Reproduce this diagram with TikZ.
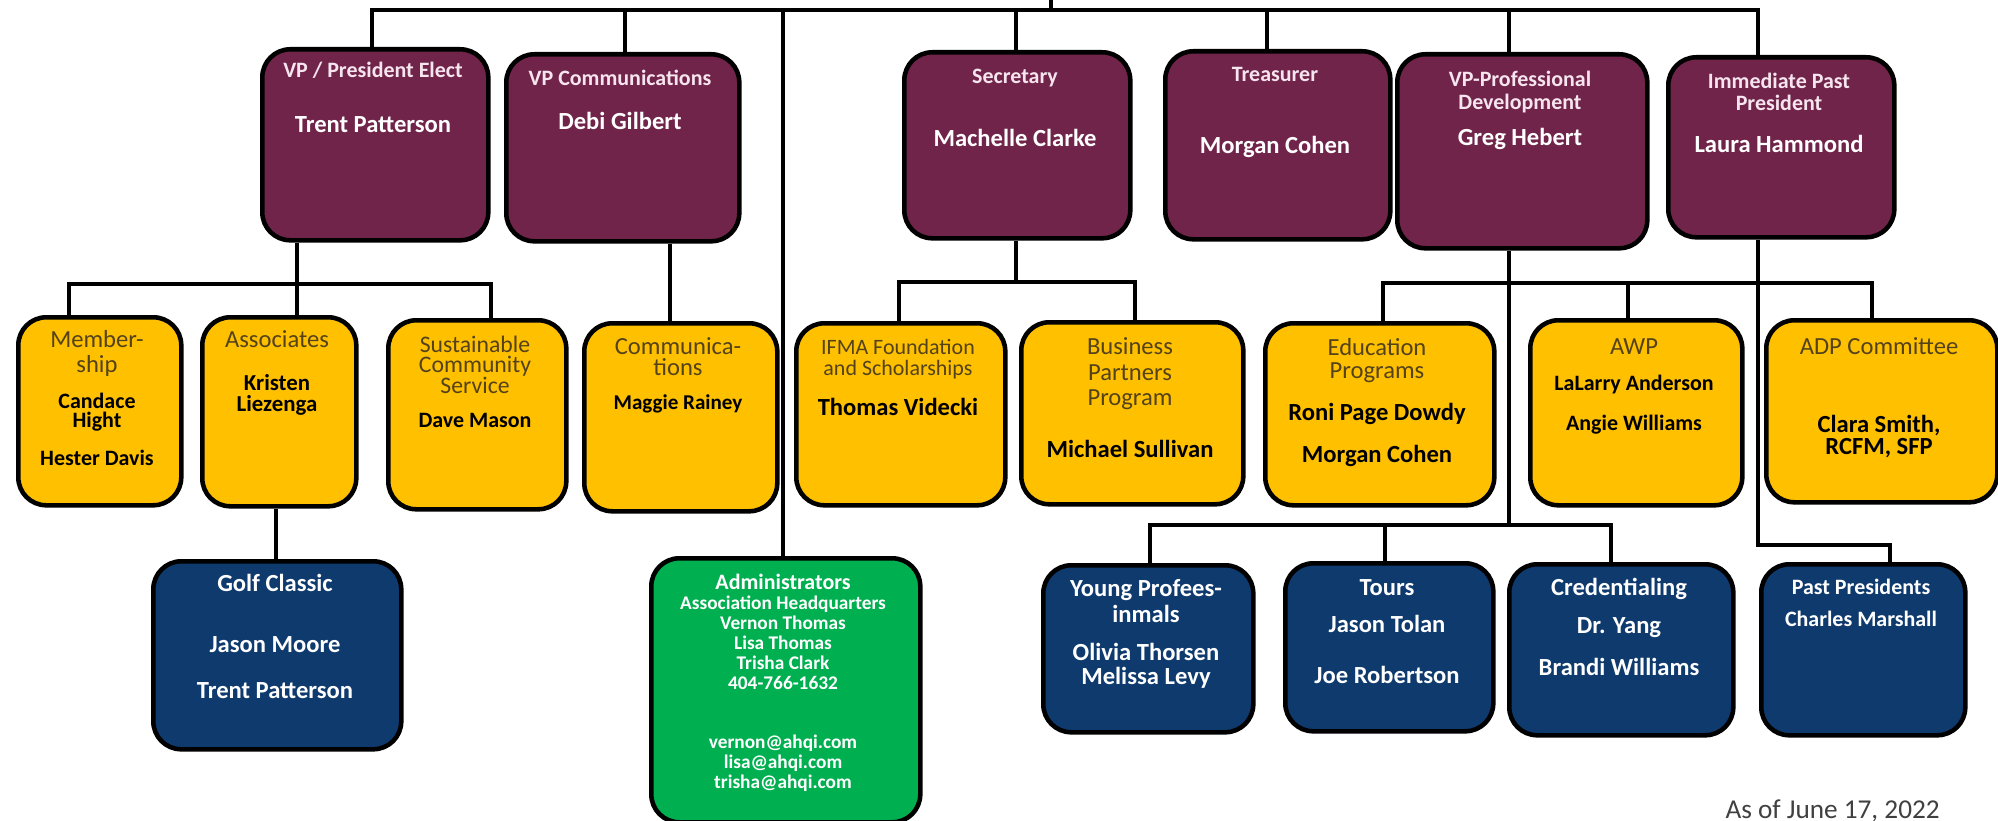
\documentclass[tikz,border=0pt]{standalone}
\usepackage{fontspec}
\setmainfont{Carlito}
\usetikzlibrary{positioning,calc}
\newlength{\pxl}
\setlength{\pxl}{0.02cm}
\definecolor{orgpurple}{RGB}{112,36,74}
\definecolor{orgyellow}{RGB}{255,192,0}
\definecolor{orgnavy}{RGB}{14,58,110}
\definecolor{orggreen}{RGB}{0,176,80}
\definecolor{ttlbrown}{RGB}{84,66,26}
\definecolor{ttlpink}{RGB}{246,228,238}
\definecolor{dategray}{RGB}{64,64,64}
\newcommand{\fsz}[1]{\fontsize{#1}{0}\selectfont}
\newcommand{\nolsk}{\lineskiplimit=-\maxdimen\relax}
\newcommand{\tp}{\rule{0pt}{12pt}}
\newcommand{\pttl}[2][12.5]{{\fsz{#1}\bfseries\color{ttlpink}#2}}
\newcommand{\pnm}[2][14]{{\fsz{#1}\bfseries #2}}
\newcommand{\yttl}[2][14]{{\fsz{#1}\color{ttlbrown}#2}}
\newcommand{\ynm}[2][13]{{\fsz{#1}\bfseries #2}}
\newcommand{\bnm}[2][14]{{\fsz{#1}\bfseries #2}}
\tikzset{
    boxsty/.style={draw=black,line width=2.6pt,rounded corners=0.56cm,anchor=north west,inner sep=0pt},
    purpsty/.style={boxsty,fill=orgpurple},
    yelsty/.style={boxsty,fill=orgyellow},
    navsty/.style={boxsty,fill=orgnavy},
    grnsty/.style={boxsty,fill=orggreen},
    sz/.style 2 args={minimum width=#1\pxl,minimum height=#2\pxl},
    txtsty/.style={inner sep=0pt,align=center,anchor=north,font=\fsz{12}\nolsk},
    wtxtsty/.style={txtsty,text=white},
    btxtsty/.style={txtsty,text=black},
    linesty/.style={draw=black,line width=2.2pt,line join=miter},
}

\begin{document}
\begin{tikzpicture}[x=0.02cm,y=-0.02cm]
  \path[use as bounding box,fill=white] (0,0) rectangle (1998,821);

  \node[purpsty,sz={226}{191}] (vppe)  at (260,47) {};
  \node[purpsty,sz={233}{187}] (vpcom) at (504,52) {};
  \node[purpsty,sz={226}{186}] (secr)  at (902,50) {};
  \node[purpsty,sz={225}{188}] (treas) at (1163,49) {};
  \node[purpsty,sz={250}{194}] (vppd)  at (1395,52) {};
  \node[purpsty,sz={226}{180}] (ipp)   at (1666,55) {};

  \node[yelsty,sz={163}{188}] (memb)  at (16,315) {};
  \node[yelsty,sz={154}{189}] (assoc) at (200,315) {};
  \node[yelsty,sz={178}{189}] (sust)  at (386,318) {};
  \node[yelsty,sz={193}{188}] (comm)  at (582,321) {};
  \node[yelsty,sz={209}{182}] (ifma)  at (794,321) {};
  \node[yelsty,sz={222}{182}] (bpp)   at (1019,320) {};
  \node[yelsty,sz={229}{182}] (edu)   at (1263,321) {};
  \node[yelsty,sz={212}{185}] (awp)   at (1528,318) {};
  \node[yelsty,sz={231}{182}] (adp)   at (1764,318) {};

  \node[navsty,sz={248}{188}] (golf)  at (151,559) {};
  \node[grnsty,sz={269}{264}] (admin) at (649,556) {};
  \node[navsty,sz={210}{167}] (yp)    at (1041,563) {};
  \node[navsty,sz={208}{168}] (tours) at (1283,561) {};
  \node[navsty,sz={224}{171}] (cred)  at (1507,562) {};
  \node[navsty,sz={204}{171}] (pastp) at (1759,562) {};

  \node[wtxtsty] (vppe-txt)  at (373,56)  {\tp\pttl{VP / President Elect}\\[55\pxl]\pnm{Trent Patterson}};
  \node[wtxtsty] (vpcom-txt) at (620,64)  {\tp\pttl{VP Communications}\\[44\pxl]\pnm{Debi Gilbert}};
  \node[wtxtsty] (secr-txt)  at (1015,62) {\tp\pttl{Secretary}\\[63\pxl]\pnm{Machelle Clarke}};
  \node[wtxtsty] (treas-txt) at (1275,60) {\tp\pttl{Treasurer}\\[72\pxl]\pnm{Morgan Cohen}};
  \node[wtxtsty] (vppd-txt)  at (1520,65) {\tp\pttl{VP-Professional}\\[23\pxl]\pttl{Development}\\[36\pxl]\pnm{Greg Hebert}};
  \node[wtxtsty] (ipp-txt)   at (1779,67) {\tp\pttl{Immediate Past}\\[22\pxl]\pttl{President}\\[42\pxl]\pnm{Laura Hammond}};

  \node[btxtsty] (memb-txt)  at (97,326)   {\tp\yttl{Member-}\\[25\pxl]\yttl{ship}\\[36\pxl]\ynm[12.5]{Candace}\\[19\pxl]\ynm[12.5]{Hight}\\[38\pxl]\ynm[12.5]{Hester Davis}};
  \node[btxtsty] (assoc-txt) at (277,326)  {\tp\yttl{Associates}\\[43\pxl]\ynm{Kristen}\\[21\pxl]\ynm{Liezenga}};
  \node[btxtsty] (sust-txt)  at (475,331)  {\tp\yttl[13.5]{Sustainable}\\[20\pxl]\yttl[13.5]{Community}\\[21\pxl]\yttl[13.5]{Service}\\[34\pxl]\ynm[12.5]{Dave Mason}};
  \node[btxtsty] (comm-txt)  at (678,333)  {\tp\yttl{Communica-}\\[21\pxl]\yttl{tions}\\[34\pxl]\ynm[12]{Maggie Rainey}};
  \node[btxtsty] (ifma-txt)  at (898,333)  {\tp\yttl[12.5]{IFMA Foundation}\\[21\pxl]\yttl[12.5]{and Scholarships}\\[40\pxl]\ynm[14]{Thomas Videcki}};
  \node[btxtsty] (bpp-txt)   at (1130,333) {\tp\yttl{Business}\\[26\pxl]\yttl{Partners}\\[25\pxl]\yttl{Program}\\[52\pxl]\ynm[14]{Michael Sullivan}};
  \node[btxtsty] (edu-txt)   at (1377,334) {\tp\yttl{Education}\\[23\pxl]\yttl{Programs}\\[42\pxl]\ynm[14]{Roni Page Dowdy}\\[42\pxl]\ynm[14]{Morgan Cohen}};
  \node[btxtsty] (awp-txt)   at (1634,333) {\tp\yttl{AWP}\\[36\pxl]\ynm[12.5]{LaLarry Anderson}\\[40\pxl]\ynm[12.5]{Angie Williams}};
  \node[btxtsty] (adp-txt)   at (1879,333) {\tp\yttl{ADP Committee}\\[78\pxl]\ynm[14]{Clara Smith,}\\[22\pxl]\ynm[14]{RCFM, SFP}};

  \node[wtxtsty] (golf-txt)  at (275,570)  {\tp\bnm{Golf Classic}\\[61\pxl]\bnm{Jason Moore}\\[46\pxl]\bnm{Trent Patterson}};
  \node[wtxtsty] (yp-txt)    at (1146,575) {\tp\bnm{Young Profees-}\\[26\pxl]\bnm{inmals}\\[38\pxl]\bnm{Olivia Thorsen}\\[24\pxl]\bnm{Melissa Levy}};
  \node[wtxtsty] (tours-txt) at (1387,574) {\tp\bnm{Tours}\\[37\pxl]\bnm{Jason Tolan}\\[51\pxl]\bnm{Joe Robertson}};
  \node[wtxtsty] (cred-txt)  at (1619,574) {\tp\bnm{Credentialing}\\[38\pxl]\bnm{Dr. Yang}\\[42\pxl]\bnm{Brandi Williams}};
  \node[wtxtsty] (pastp-txt) at (1861,573) {\tp\bnm[12.5]{Past Presidents}\\[32\pxl]\bnm[12.5]{Charles Marshall}};
  \node[wtxtsty] (admin-txt) at (783,568)  {\tp\bnm[12.5]{Administrators}\\[20\pxl]\bnm[11]{Association Headquarters}\\[20\pxl]\bnm[11]{Vernon Thomas}\\[20\pxl]\bnm[11]{Lisa Thomas}\\[20\pxl]\bnm[11]{Trisha Clark}\\[20\pxl]\bnm[11]{404-766-1632}\\[59\pxl]\bnm[11]{vernon@ahqi.com}\\[20\pxl]\bnm[11]{lisa@ahqi.com}\\[20\pxl]\bnm[11]{trisha@ahqi.com}};

  \node[inner sep=0pt,anchor=base east,font=\fsz{15.5},text=dategray] (asof) at (1940,818) {As of June 17, 2022};

  \coordinate (trunk) at (1051,0);
  \coordinate (busL) at (372,10);
  \coordinate (busR) at (1758,10);
  \coordinate (b2) at (625,10);
  \coordinate (b3) at (783,10);
  \coordinate (b4) at (1016,10);
  \coordinate (b5) at (1267,10);
  \coordinate (b6) at (1509,10);
  \draw[linesty] (trunk) -- (trunk |- busL);
  \draw[linesty] (busL |- vppe.north) -- (busL) -- (busR) -- (busR |- ipp.north);
  \draw[linesty] (b2) -- (b2 |- vpcom.north);
  \draw[linesty] (b3) -- (b3 |- admin.north);
  \draw[linesty] (b4) -- (b4 |- secr.north);
  \draw[linesty] (b5) -- (b5 |- treas.north);
  \draw[linesty] (b6) -- (b6 |- vppd.north);

  \coordinate (pe1) at (69,284);
  \coordinate (pe2) at (297,284);
  \coordinate (pe3) at (491,284);
  \draw[linesty] (pe2 |- vppe.south) -- (pe2 |- assoc.north);
  \draw[linesty] (pe1 |- memb.north) -- (pe1) -- (pe3) -- (pe3 |- sust.north);
  \coordinate (cm1) at (670,280);
  \draw[linesty] (cm1 |- vpcom.south) -- (cm1 |- comm.north);
  \coordinate (as1) at (276,530);
  \draw[linesty] (as1 |- assoc.south) -- (as1 |- golf.north);

  \coordinate (se1) at (899,282);
  \coordinate (se2) at (1016,282);
  \coordinate (se3) at (1135,282);
  \draw[linesty] (se2 |- secr.south) -- (se2);
  \draw[linesty] (se1 |- ifma.north) -- (se1) -- (se3) -- (se3 |- bpp.north);

  \coordinate (pd1) at (1383,283);
  \coordinate (pd2) at (1509,283);
  \coordinate (pd3) at (1628,283);
  \coordinate (pd4) at (1872,283);
  \coordinate (pd5) at (1150,525);
  \coordinate (pd6) at (1509,525);
  \coordinate (pd7) at (1385,525);
  \coordinate (pd8) at (1611,525);
  \draw[linesty] (pd2 |- vppd.south) -- (pd6);
  \draw[linesty] (pd1 |- edu.north) -- (pd1) -- (pd4) -- (pd4 |- adp.north);
  \draw[linesty] (pd3) -- (pd3 |- awp.north);
  \draw[linesty] (pd5 |- yp.north) -- (pd5) -- (pd8) -- (pd8 |- cred.north);
  \draw[linesty] (pd7) -- (pd7 |- tours.north);

  \coordinate (ip1) at (1758,545);
  \coordinate (ip2) at (1890,545);
  \draw[linesty] (ip1 |- ipp.south) -- (ip1) -- (ip2) -- (ip2 |- pastp.north);
\end{tikzpicture}
\end{document}
